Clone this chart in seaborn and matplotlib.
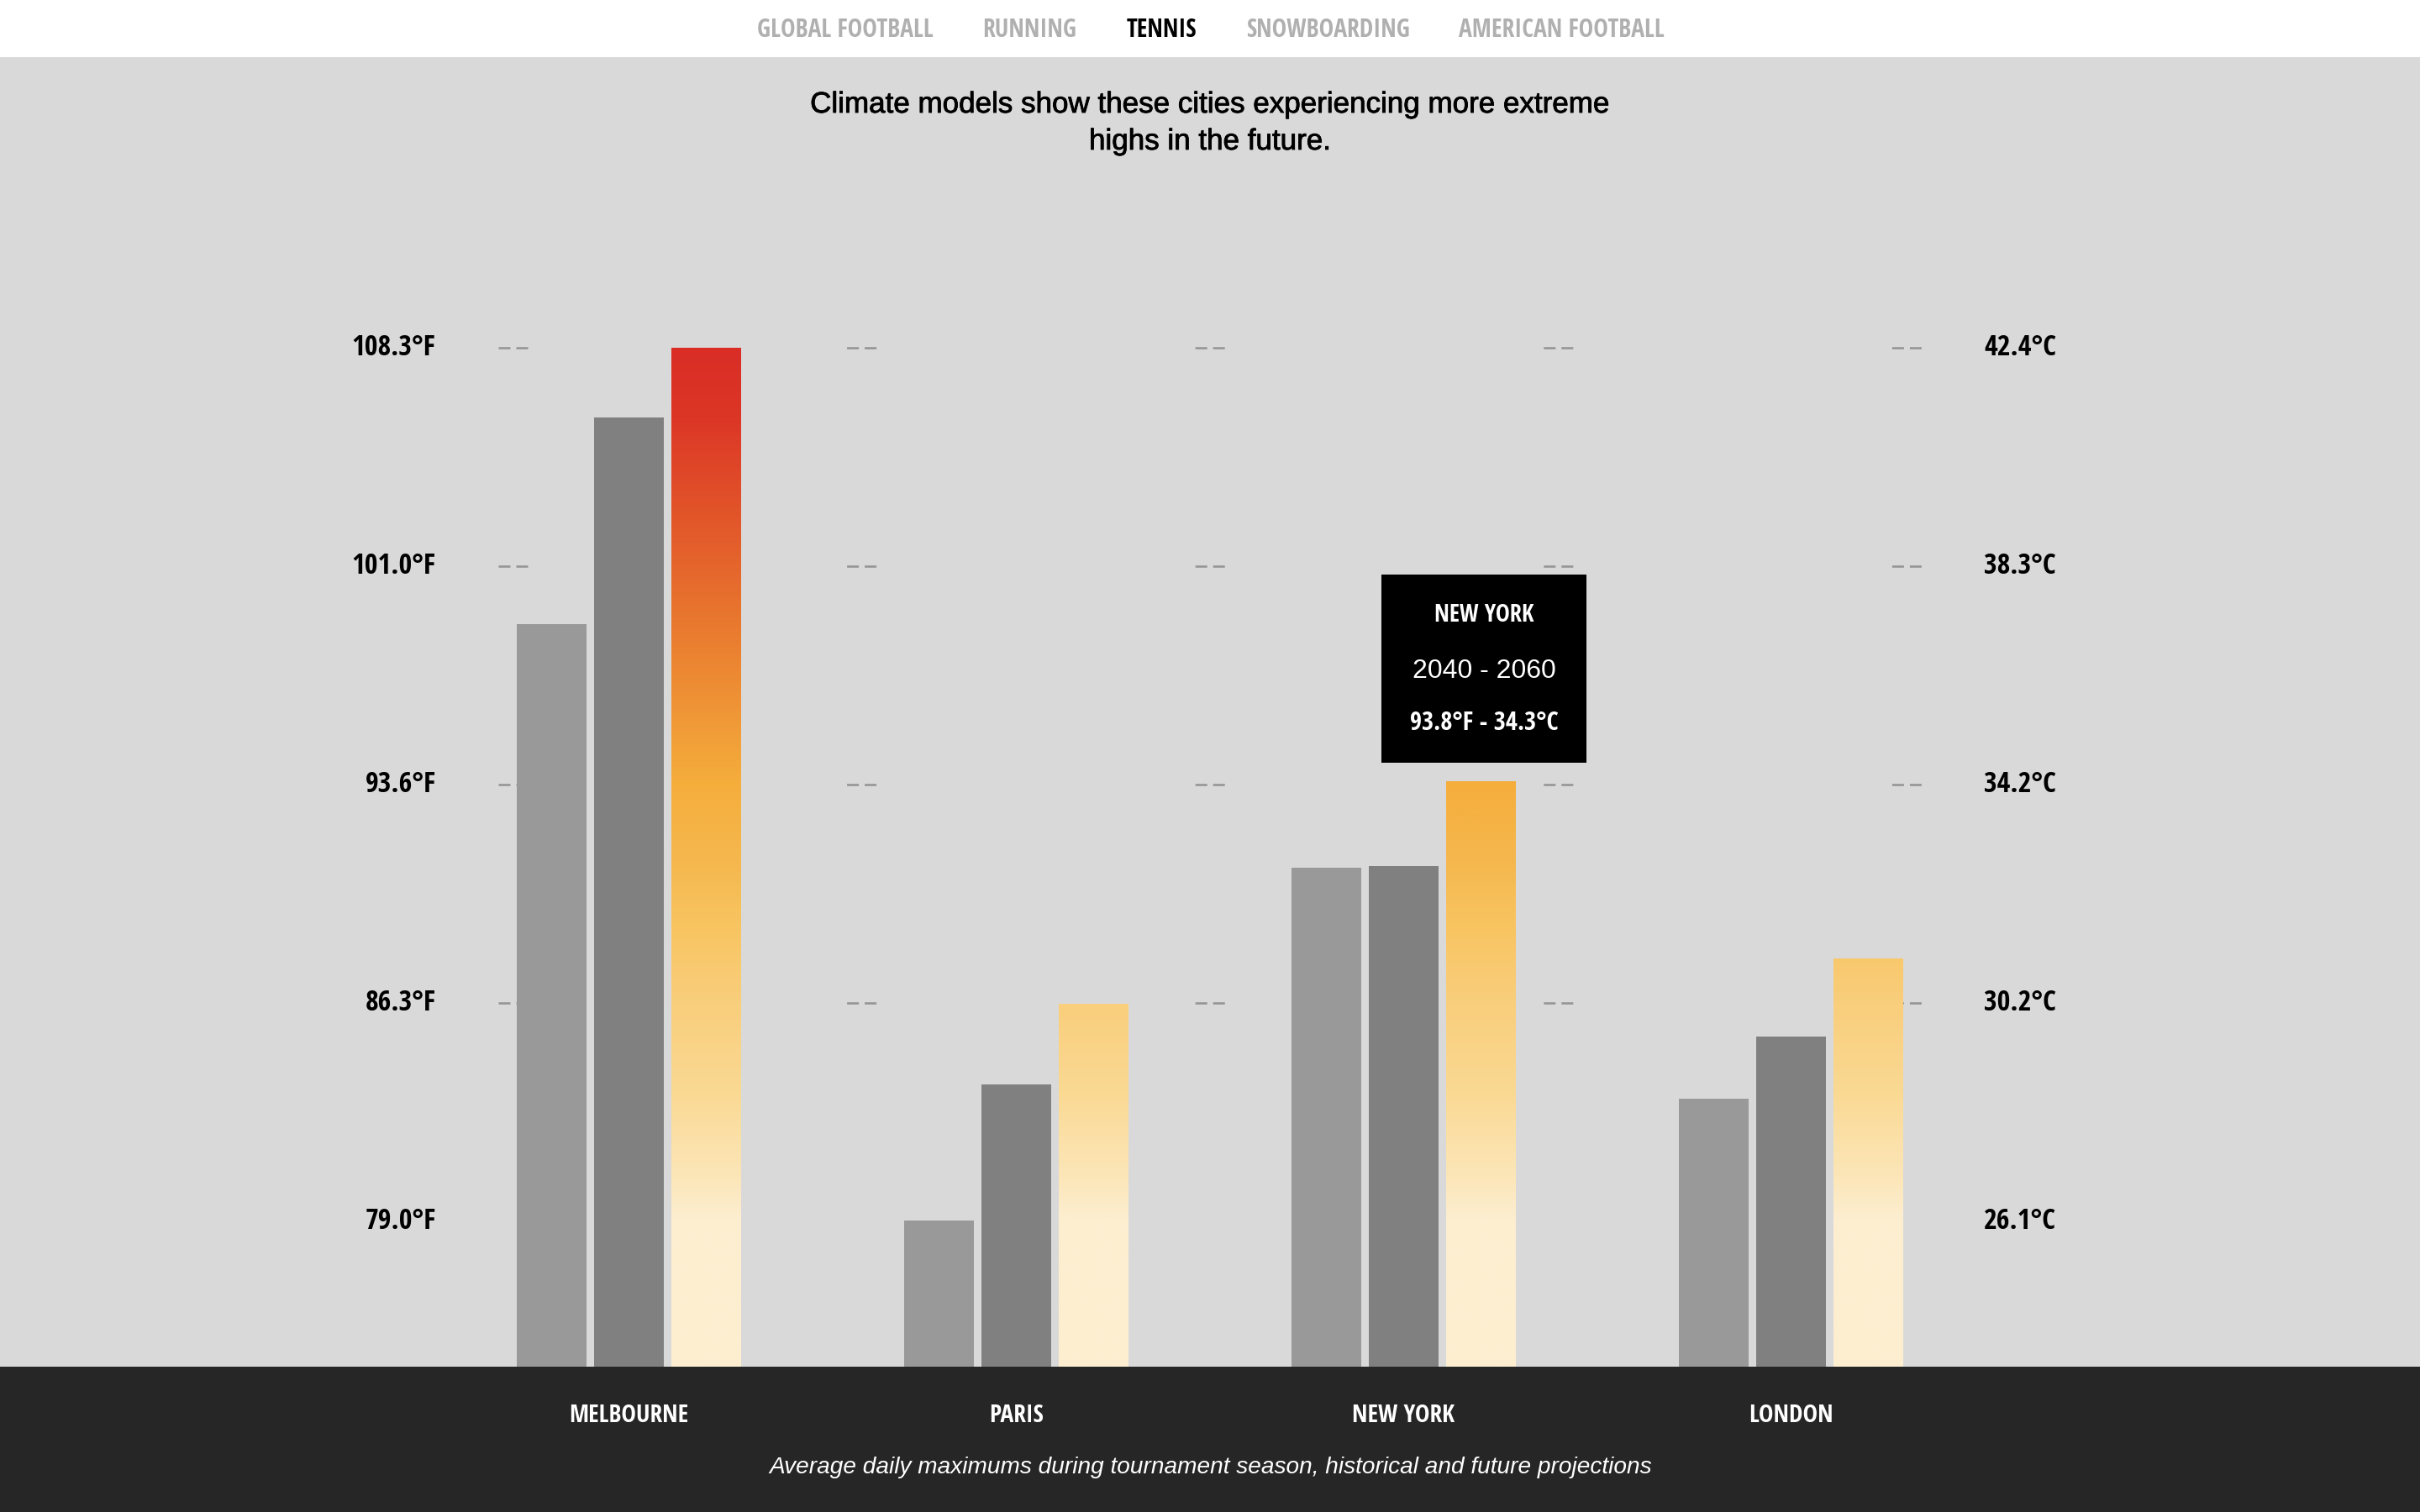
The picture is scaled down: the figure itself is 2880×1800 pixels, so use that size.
import numpy as np
import pandas as pd
import matplotlib
matplotlib.use("Agg")
import matplotlib.pyplot as plt
import matplotlib.patheffects as pe
from matplotlib.colors import LinearSegmentedColormap
from matplotlib.patches import Rectangle
import seaborn as sns

cities = ["MELBOURNE", "PARIS", "NEW YORK", "LONDON"]
periods = ["Historical", "Recent", "2040 - 2060"]
historical = [99.02, 79.02, 90.85, 83.10]
recent = [105.95, 83.59, 90.91, 85.19]
future = [108.3, 86.30, 93.76, 87.81]

tick_f = [108.3, 100.975, 93.65, 86.325, 79.0]
labels_f = ["108.3°F", "101.0°F", "93.6°F", "86.3°F", "79.0°F"]
labels_c = ["42.4°C", "38.3°C", "34.2°C", "30.2°C", "26.1°C"]
dash_f = [108.3, 100.975, 93.65, 86.325]
nav_items = ["GLOBAL FOOTBALL", "RUNNING", "TENNIS", "SNOWBOARDING", "AMERICAN FOOTBALL"]
nav_active = "TENNIS"
title_lines = ["Climate models show these cities experiencing more extreme", "highs in the future."]
caption = "Average daily maximums during tournament season, historical and future projections"
tooltip_lines = ["NEW YORK", "2040 - 2060", "93.8°F - 34.3°C"]

grad_f = [74.13, 79.1, 80.5, 83.3, 86.3, 89.0, 90.95, 93.65, 99.4, 101.0, 106.0, 108.3]
grad_colors = ["#fdeed0", "#fdeed0", "#fce6b8", "#fad993", "#f9ce7c", "#f8c460",
               "#f5b84f", "#f5ae3c", "#e8752e", "#e5652c", "#dc3626", "#d92d25"]

W, H = 2880, 1800
DPI = 200
PT = 72 / DPI
sns.set_theme(style="white")
plt.rcParams["lines.scale_dashes"] = False
NARROW = ["Open Sans Condensed", "Roboto Condensed", "DejaVu Sans"]
SANS = ["Liberation Sans", "DejaVu Sans"]
plt.rcParams["font.family"] = SANS

fig = plt.figure(figsize=(W / DPI, H / DPI), dpi=DPI, facecolor="white")
AX_TOP, AX_BOT = 68, 1627
ax = fig.add_axes([0, 1 - AX_BOT / H, 1, (AX_BOT - AX_TOP) / H], facecolor="#d9d9d9")
fig.patches.append(Rectangle((0, 0), 1, 1 - AX_BOT / H, transform=fig.transFigure,
                             facecolor="#262626", edgecolor="none", zorder=-1))

df = pd.DataFrame({
    "city": cities * 3,
    "period": np.repeat(periods, len(cities)),
    "temp": historical + recent + future,
})
sns.barplot(data=df, x="city", y="temp", hue="period", order=cities, hue_order=periods,
            palette=["#999999", "#808080", "#f5ae3c"], saturation=1, width=0.5987, gap=0.098,
            legend=False, linewidth=0, ax=ax)

PITCH = 461.0
CENTER0 = 748.5
ax.set_xlim(-CENTER0 / PITCH, (W - CENTER0) / PITCH)
per_px = (108.3 - 79.0) / 4 / 260
ylim = (108.3 - (AX_BOT - 414) * per_px, 108.3 + (414 - AX_TOP) * per_px)
ax.set_ylim(ylim)
xlim = ax.get_xlim()

cmap = LinearSegmentedColormap.from_list(
    "heat", [((f - grad_f[0]) / (grad_f[-1] - grad_f[0]), c) for f, c in zip(grad_f, grad_colors)], N=1024)
gradient = np.linspace(0, 1, 1024).reshape(-1, 1)
for bar in ax.containers[2]:
    x0, x1 = bar.get_x(), bar.get_x() + bar.get_width()
    im = ax.imshow(gradient, cmap=cmap, origin="lower", aspect="auto", interpolation="bilinear",
                   extent=(x0, x1, grad_f[0], grad_f[-1]), zorder=1.5, vmin=0, vmax=1)
    bar.set_facecolor("none")
    im.set_clip_path(Rectangle((x0, ylim[0]), x1 - x0, bar.get_height() - ylim[0], transform=ax.transData))
ax.set_xlim(xlim)
ax.set_ylim(ylim)

for s in ax.spines.values():
    s.set_visible(False)
ax.set_xlabel("")
ax.set_ylabel("")
ax.set_yticks([])
ax.grid(False)
ax.tick_params(axis="x", length=0, pad=(1682 - AX_BOT - 11) * PT, colors="white")
for t in ax.get_xticklabels():
    t.set_fontfamily(NARROW)
    t.set_fontweight("bold")
    t.set_fontsize(10.6)
    t.set_color("white")

# dashed reference marks, behind bars
trans = ax.get_yaxis_transform()
DASH = (0, (14 * PT, 7 * PT, 14 * PT, (414.6 - 35) * PT))
for f in dash_f:
    ax.plot([593 / W, 2290 / W], [f, f], transform=trans, color="#959595", lw=2.6 * PT,
            ls=DASH, dash_capstyle="butt", zorder=0.5)

for f, lf, lc in zip(tick_f, labels_f, labels_c):
    ax.annotate(lf, xy=(518.5 / W, f), xycoords=trans, xytext=(0, 0), textcoords="offset points",
                ha="right", va="center", fontsize=12.2, family=NARROW, weight="bold", color="black")
    ax.annotate(lc, xy=(2361 / W, f), xycoords=trans, xytext=(0, 0), textcoords="offset points",
                ha="left", va="center", fontsize=12.2, family=NARROW, weight="bold", color="black")

def ftext(px, py, s, **kw):
    return fig.text(px / W, 1 - py / H, s, ha="center", va="center", **kw)

nav_centers = [1005.5, 1225.5, 1382.5, 1581, 1858.5]
for cx, item in zip(nav_centers, nav_items):
    ftext(cx, 36, item, fontsize=10.65, family=NARROW, weight="bold",
          color="black" if item == nav_active else "#b0b0b0")

stroke = [pe.withStroke(linewidth=0.3, foreground="black")]
ftext(1440, 124.5, title_lines[0], fontsize=12.6, family=SANS, color="black", path_effects=stroke)
ftext(1440, 168.5, title_lines[1], fontsize=12.6, family=SANS, color="black", path_effects=stroke)
ftext(1441, 1747, caption, fontsize=10.1, family=SANS, style="italic", color="white")

ax.add_patch(Rectangle((1644 / W, 1 - 908 / H), 244 / W, 224 / H, transform=fig.transFigure,
                       facecolor="black", edgecolor="none", zorder=5))
ftext(1766.5, 733, tooltip_lines[0], fontsize=10.3, family=NARROW, weight="bold", color="white", zorder=6)
ftext(1766.5, 799, tooltip_lines[1], fontsize=11.5, family=SANS, color="white", zorder=6)
ftext(1766.5, 861, tooltip_lines[2], fontsize=10.95, family=NARROW, weight="bold", color="white", zorder=6)

fig.savefig("out.png", dpi=DPI, facecolor="white")
